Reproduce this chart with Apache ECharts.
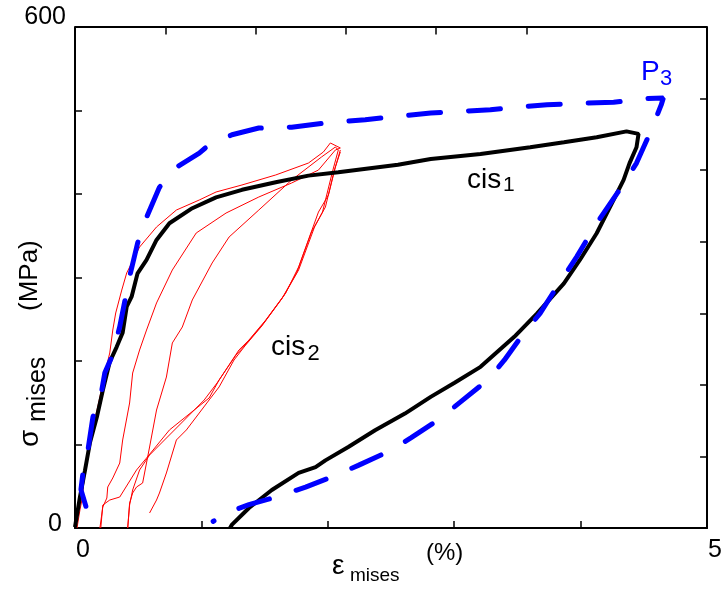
<!DOCTYPE html>
<html><head><meta charset="utf-8">
<script src="https://cdn.jsdelivr.net/npm/echarts@6/dist/echarts.min.js"></script>
<style>html,body{margin:0;padding:0;background:#fff}#c{width:725px;height:591px}</style>
</head><body><div id="c"></div>
<script>
// ---- data (strain %, Mises stress MPa) ----
const cis1 = [
[0,1],[0.039,37],[0.079,69],[0.118,102],[0.173,133],[0.220,165],[0.275,199],[0.330,217],[0.377,234],[0.409,265],[0.448,277],[0.495,305],[0.566,321],[0.645,345],[0.747,365],[0.928,383],[1.116,396],[1.321,405],[1.588,414],[1.847,422],[2.083,426],[2.555,435],[2.814,442],[3.208,448],[3.601,456],[3.868,462],[4.127,468],[4.363,475],[4.458,472],[4.442,456],[4.387,437],[4.340,417],[4.261,393],[4.127,353],[3.994,321],[3.868,293],[3.656,257],[3.475,229],[3.208,193],[3.003,174],[2.814,157],[2.610,137],[2.374,117],[2.162,97],[1.981,81],[1.903,73],[1.769,66],[1.557,45.5],[1.376,24],[1.242,4],[1.226,0]
];
const p3 = [
[0.086,26],[0.047,46],[0.063,66],[0.102,93],[0.142,133],[0.212,165],[0.236,186],[0.291,205],[0.354,241],[0.432,301],[0.495,341],[0.566,372],[0.668,408],[0.802,432],[0.983,449],[1.038,456],[1.242,471],[1.454,479],[1.714,480],[1.981,485],[2.296,489],[2.814,497],[3.286,501],[3.734,507],[4.261,510],[4.497,514],[4.654,515],[4.638,507],[4.560,477],[4.442,437],[4.308,405],[4.127,365],[3.970,325],[3.813,289],[3.679,257],[3.553,234],[3.396,201],[3.263,177],[3.050,151],[2.869,129],[2.657,108],[2.500,93],[2.241,75],[2.028,61],[1.824,49],[1.588,37],[1.376,28],[1.195,18],[1.093,8]
];
const cis2Load0 = [
[0.016,0],[0.039,21.6],[0.055,33.5],[0.079,69.5],[0.118,101.8],[0.157,129.3],[0.197,156.9],[0.236,185.6],[0.275,209.6],[0.299,237.1],[0.322,257.5],[0.370,285],[0.409,305.4],[0.511,336.5],[0.645,360.5],[0.802,380.8],[0.983,392.8],[1.116,402.4],[1.321,410.8],[1.588,422.8],[1.847,437.1],[1.965,450.3],[2.020,461.1],[2.099,455.1]
];
const cis2Unload1 = [
[2.099,452.7],[2.060,432.3],[2.005,398.8],[1.926,378.4],[1.769,312.6],[1.667,281.4],[1.509,249.1],[1.376,225.1],[1.297,213.2],[1.140,177.2],[1.061,155.7],[0.943,141.3],[0.747,117.4],[0.566,83.8],[0.487,69.5],[0.354,37.1],[0.275,33.5],[0.220,27.5],[0.204,0]
];
const cis2Reload1 = [
[0.197,0],[0.220,25.1],[0.252,35.9],[0.259,49.1],[0.299,59.9],[0.354,77.8],[0.377,105.4],[0.432,149.7],[0.456,185.6],[0.511,213.2],[0.566,237.1],[0.645,269.5],[0.770,309],[0.959,353.3],[1.195,377.2],[1.454,396.4],[1.714,413.2],[1.926,428.7],[2.060,452.7],[2.099,455.1]
];
const cis2Unload2 = [
[2.099,450.3],[2.052,428.7],[1.981,384.4],[1.895,360.5],[1.769,309],[1.651,277.8],[1.494,245.5],[1.360,221.6],[1.274,207.2],[1.124,173.7],[1.022,153.3],[0.865,129.3],[0.708,105.4],[0.590,87.4],[0.511,69.5],[0.456,45.5],[0.432,27.5],[0.417,0]
];
const cis2Reload2 = [
[0.417,0],[0.432,29.9],[0.456,41.9],[0.487,49.1],[0.535,53.9],[0.590,97],[0.645,141.3],[0.723,180.8],[0.770,221.6],[0.849,240.7],[0.928,273.1],[1.085,317.4],[1.219,348.5],[1.454,380.8],[1.714,416.8],[1.950,444.3],[2.060,456.3],[2.083,452.7]
];
const cis2Unload3 = [
[2.083,452.7],[2.036,426.3],[1.958,378.4],[1.871,354.5],[1.753,305.4],[1.635,274.3],[1.478,241.9],[1.344,218],[1.258,201.2],[1.140,168.9],[1.061,153.3],[0.959,132.9],[0.881,117.4],[0.802,105.4],[0.723,65.9],[0.668,41.9],[0.645,33.5],[0.590,18]
];
const xLabelsShown = [0, 5];
// top frame ticks (7 divisions of the strain range, first five drawn)
const topTickX = [0.714, 1.429, 2.143, 2.857, 3.571];
const topTickDepth = 9; // MPa, tick length on the top frame

const F = "'Liberation Sans', Arial, Helvetica, sans-serif";
const chart = echarts.init(document.getElementById('c'));
const axisLine = {show: true, onZero: false, lineStyle: {color: '#000', width: 2}};
const tick = {show: true, inside: true, length: 7, lineStyle: {color: '#000', width: 1.5}};
const redSeries = [cis2Load0, cis2Unload1, cis2Reload1, cis2Unload2, cis2Reload2, cis2Unload3].map(d => ({
  type: 'line', data: d, symbol: 'none', lineStyle: {color: '#ff0000', width: 1}, z: 3
}));
chart.setOption({
  animation: false,
  backgroundColor: '#fff',
  grid: {left: 75, right: 14, top: 27, bottom: 63, containLabel: false},
  xAxis: {type: 'value', min: 0, max: 5, interval: 1, position: 'bottom', axisLine, axisTick: tick,
     splitLine: {show: false},
     axisLabel: {formatter: v => xLabelsShown.includes(v) ? String(v) : '', color: '#000', fontSize: 25, fontFamily: F, margin: 10, padding: [0, 0, 0, 16], showMinLabel: true, showMaxLabel: true}},
  yAxis: [
    {type: 'value', min: 0, max: 600, interval: 100, position: 'left', axisLine, axisTick: tick, splitLine: {show: false},
     axisLabel: {formatter: v => v === 600 ? '{t|600}' : (v === 0 ? '{z|0}' : ''), margin: 9, showMinLabel: true, showMaxLabel: true,
       rich: {t: {fontSize: 25, fontFamily: F, color: '#000', padding: [0, 0, 20, 0]},
              z: {fontSize: 25, fontFamily: F, color: '#000', padding: [0, 4, 8, 0]}}}},
    {type: 'value', min: 0, max: 7, interval: 1, position: 'right', axisLine, axisTick: tick, splitLine: {show: false}, axisLabel: {show: false}}
  ],
  series: [
    ...redSeries,
    {type: 'line', data: cis1, symbol: 'none', lineStyle: {color: '#000', width: 4}, z: 4},
    {type: 'line', data: p3, symbol: 'none', lineStyle: {color: '#0000ff', width: 5, type: [32, 28], cap: 'round'}, z: 5},
    // top frame line and its ticks, drawn in data coordinates
    {type: 'line', data: [[0, 600], [5, 600]], symbol: 'none', clip: false, lineStyle: {color: '#000', width: 2}, z: 6,
     markLine: {silent: true, symbol: ['none', 'none'], animation: false, label: {show: false},
       lineStyle: {color: '#000', width: 1.5, type: 'solid'},
       data: topTickX.map(x => [{coord: [x, 600]}, {coord: [x, 600 - topTickDepth]}])}}
  ],
  graphic: [
    {type: 'text', x: 467, y: 180, style: {text: 'cis', fill: '#000', fontSize: 28, fontFamily: F, verticalAlign: 'middle'}},
    {type: 'text', x: 503, y: 185, style: {text: '1', fill: '#000', fontSize: 21, fontFamily: F, verticalAlign: 'middle'}},
    {type: 'text', x: 271, y: 347, style: {text: 'cis', fill: '#000', fontSize: 28, fontFamily: F, verticalAlign: 'middle'}},
    {type: 'text', x: 307.5, y: 354, style: {text: '2', fill: '#000', fontSize: 22, fontFamily: F, verticalAlign: 'middle'}},
    {type: 'text', x: 641, y: 72, style: {text: 'P', fill: '#0000ff', fontSize: 28, fontFamily: F, verticalAlign: 'middle'}},
    {type: 'text', x: 660, y: 79, style: {text: '3', fill: '#0000ff', fontSize: 22, fontFamily: F, verticalAlign: 'middle'}},
    {type: 'text', x: 332, y: 566, style: {text: 'ε', fill: '#000', fontSize: 28, fontFamily: F, verticalAlign: 'middle'}},
    {type: 'text', x: 350, y: 576, style: {text: 'mises', fill: '#000', fontSize: 19, fontFamily: F, verticalAlign: 'middle'}},
    {type: 'text', x: 426, y: 553, style: {text: '(%)', fill: '#000', fontSize: 24, fontFamily: F, verticalAlign: 'middle'}},
    {type: 'text', x: 30, y: 447, rotation: Math.PI / 2, style: {text: 'σ', fill: '#000', fontSize: 28, fontFamily: F, verticalAlign: 'middle'}},
    {type: 'text', x: 38, y: 422, rotation: Math.PI / 2, style: {text: 'mises', fill: '#000', fontSize: 25, fontFamily: F, verticalAlign: 'middle'}},
    {type: 'text', x: 30, y: 311, rotation: Math.PI / 2, style: {text: '(MPa)', fill: '#000', fontSize: 26, fontFamily: F, verticalAlign: 'middle'}}
  ]
});
</script></body></html>
